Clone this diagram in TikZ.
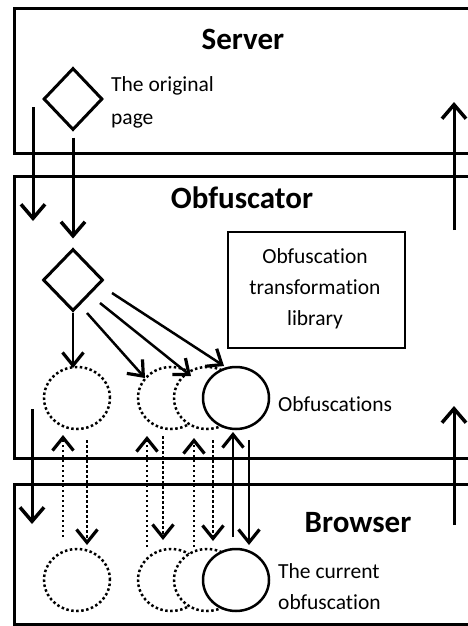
\documentclass[tikz,border=0pt]{standalone}
\usepackage{fontspec}
\setmainfont{Carlito}[Ligatures=NoCommon]
\usetikzlibrary{arrows.meta,shapes.geometric}

\tikzset{
  tier/.style={draw, line width=3pt, inner sep=0pt, anchor=north west, minimum width=470pt},
  tiername/.style={font=\fontsize{31}{36}\selectfont\bfseries, inner sep=0pt, anchor=base},
  txt/.style={font=\fontsize{21.5}{26}\selectfont, inner sep=0pt, anchor=base west},
  libtxt/.style={font=\fontsize{21.5}{26}\selectfont, inner sep=0pt, anchor=base},
  libbox/.style={draw, line width=2pt, inner sep=0pt, anchor=north west},
  flow/.style={line width=3pt, -{Straight Barb[length=14pt,width=24pt,line width=3.5pt]}},
  thinflow/.style={line width=2.5pt, -{Straight Barb[length=13pt,width=21pt,line width=3.2pt]}},
  dotflow/.style={thinflow, dash pattern=on 2.5pt off 2.5pt},
  pagebox/.style={diamond, draw, line width=3pt, inner sep=0pt, minimum width=59pt, minimum height=62pt},
  obf/.style={ellipse, draw, fill=white, line width=2.5pt, inner sep=0pt, minimum width=66pt, minimum height=62pt},
  ghost/.style={obf, dash pattern=on 2.5pt off 2.5pt},
}

\begin{document}
\begin{tikzpicture}[x=1pt,y=-1pt]
\useasboundingbox (0,0) rectangle (468,626);
\clip (0,0) rectangle (468,626);

% the three tiers (their right sides run off the page)
\node[tier, minimum height=145pt] (server) at (13,7) {};
\node[tier, minimum height=282pt] (obfuscator) at (13,175) {};
\node[tier, minimum height=140pt] (browser) at (13,483) {};

\node[tiername] (serverT) at (243,50) {Server};
\node[tiername] (obfT) at (242,208) {Obfuscator};
\node[tiername] (browserT) at (358,532) {Browser};

% server: the original page
\node[pagebox] (orig) at (73,99) {};
\node[txt] (origA) at (111,91) {The original};
\node[txt] (origB) at (111,124) {page};

% obfuscator
\node[pagebox, minimum width=60pt] (copy) at (73,280) {};
\node[libbox, minimum width=177pt, minimum height=116pt] (lib) at (227,231) {};
\node[libtxt] (libA) at (315,263) {Obfuscation};
\node[libtxt] (libB) at (315,294) {transformation};
\node[libtxt] (libC) at (315,325) {library};

\node[ghost] (o1) at (77,398) {};
\node[ghost] (o2) at (171,398) {};
\node[ghost] (o3) at (207,398) {};
\node[obf]   (o4) at (236,398) {};
\node[txt] (obfsT) at (278,411) {Obfuscations};

% browser
\node[ghost] (b1) at (77,580) {};
\node[ghost] (b2) at (171,580) {};
\node[ghost] (b3) at (207,580) {};
\node[obf]   (b4) at (236,580) {};
\node[txt] (curA) at (278,578) {The current};
\node[txt] (curB) at (278,609) {obfuscation};

% free ends of the connectors
\coordinate (sL1) at (33,107);  \coordinate (sL2) at (33,221);
\coordinate (sR1) at (454,230); \coordinate (sR2) at (454,102);
\coordinate (mL1) at (32,409);  \coordinate (mL2) at (32,524);
\coordinate (mR1) at (454,525); \coordinate (mR2) at (454,406);
\coordinate (dA1) at (87,313);  \coordinate (dA2) at (145,378);
\coordinate (dB1) at (100,303); \coordinate (dB2) at (191,376);
\coordinate (dC1) at (112,293); \coordinate (dC2) at (224,366);
\coordinate (v1) at (73,368);
\coordinate (u1a) at (63,537);  \coordinate (u1b) at (63,435);
\coordinate (w1a) at (87,440);  \coordinate (w1b) at (87,545);
\coordinate (u2a) at (147,547); \coordinate (u2b) at (147,436);
\coordinate (w2a) at (163,436); \coordinate (w2b) at (163,540);
\coordinate (u3a) at (194,547); \coordinate (u3b) at (194,438);
\coordinate (w3a) at (213,440); \coordinate (w3b) at (213,541);
\coordinate (u4a) at (233,537); \coordinate (u4b) at (233,432);
\coordinate (w4a) at (249,440); \coordinate (w4b) at (249,545);

\draw[flow] (sL1) -- (sL2);
\draw[flow] (sR1) -- (sR2);
\draw[flow] (mL1) -- (mL2);
\draw[flow] (mR1) -- (mR2);
\draw[flow, shorten <=6pt, shorten >=9pt] (orig.south) -- (copy.north);
\draw[thinflow] (copy.south) -- (v1);
\draw[thinflow] (dA1) -- (dA2);
\draw[thinflow] (dB1) -- (dB2);
\draw[thinflow] (dC1) -- (dC2);

% exchanges between obfuscator and browser
\draw[dotflow] (u1a) -- (u1b);
\draw[dotflow] (w1a) -- (w1b);
\draw[dotflow] (u2a) -- (u2b);
\draw[dotflow] (w2a) -- (w2b);
\draw[dotflow] (u3a) -- (u3b);
\draw[dotflow] (w3a) -- (w3b);
\draw[thinflow] (u4a) -- (u4b);
\draw[thinflow] (w4a) -- (w4b);
\end{tikzpicture}
\end{document}
